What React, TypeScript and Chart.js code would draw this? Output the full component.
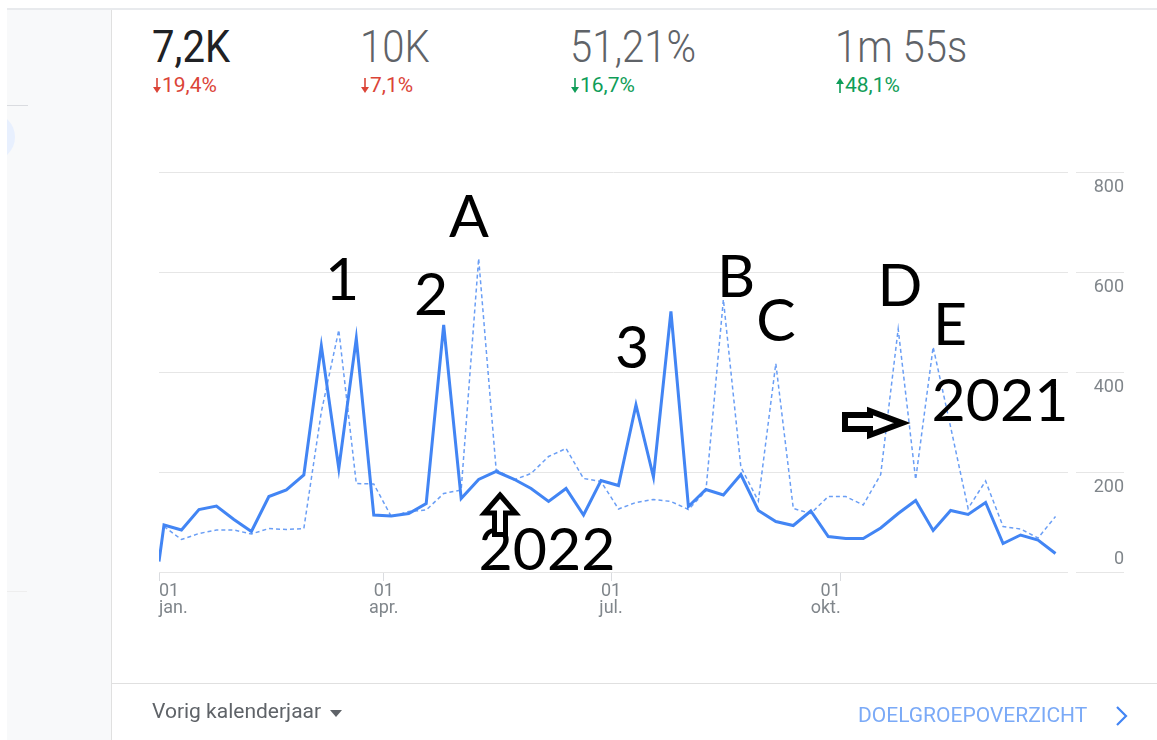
import React, { useEffect, useRef } from "react";
import { Chart, registerables } from "chart.js";

Chart.register(...registerables);

// ---- data -------------------------------------------------------------
// day of the year (0 = 1 jan.) of every weekly point
const weekDays = [
  0, 2, 9, 16, 23, 30, 37, 44, 51, 58, 65, 72, 79, 86, 93, 100, 107, 114, 121,
  128, 135, 142, 149, 156, 163, 170, 177, 184, 191, 198, 205, 212, 219, 226,
  233, 240, 247, 254, 261, 268, 275, 282, 289, 296, 303, 310, 317, 324, 331,
  338, 345, 352, 359,
];
// current year (solid line)
const users2022 = [
  21, 94, 84, 125, 132, 105, 81, 151, 164, 194, 452, 207, 467, 114, 112, 117,
  137, 494, 147, 185, 201, 186, 167, 141, 167, 114, 183, 173, 334, 190, 521,
  131, 165, 154, 195, 123, 101, 93, 122, 71, 67, 67, 88, 117, 143, 83, 123, 115,
  139, 57, 74, 64, 37,
];
// previous year (dashed line)
const users2021 = [
  null, 91, 65, 77, 84, 84, 76, 87, 85, 87, 320, 484, 177, 176, 111, 121, 124,
  157, 164, 627, 205, 184, 197, 231, 247, 187, 181, 126, 139, 145, 141, 125,
  162, 545, 210, 142, 417, 127, 117, 151, 151, 134, 195, 486, 185, 450, 290,
  127, 182, 91, 86, 68, 111,
];
const yTickValues = [0, 200, 400, 600, 800];
const yTickLabels = ["0", "200", "400", "600", "800"];
const xTickDays = [0, 90, 181, 273];
const xTickDayLabels = ["01", "01", "01", "01"];
const xTickMonthLabels = ["jan.", "apr.", "jul.", "okt."];
const xTickAlign: CanvasTextAlign[] = ["left", "center", "center", "right"];

const metricValues = ["7,2K", "10K", "51,21%", "1m 55s"];
const metricChanges = ["19,4%", "7,1%", "16,7%", "48,1%"];
const metricUp = [false, false, false, true];
const metricGood = [false, false, true, true];

// ---- helpers ----------------------------------------------------------
const GRID = "#e6e6e6";
const AXIS_TEXT = "#80868b";

type TxtProps = {
  x: number;
  y: number; // baseline
  size: number;
  color: string;
  family?: string;
  weight?: number;
  factor?: number;
  center?: boolean;
  sx?: number;
  children: React.ReactNode;
};

const Txt = ({
  x,
  y,
  size,
  color,
  family = "Roboto",
  weight = 400,
  factor = 0.842,
  center = false,
  sx = 1,
  children,
}: TxtProps) => {
  const transforms: string[] = [];
  if (center) transforms.push("translateX(-50%)");
  if (sx !== 1) transforms.push(`scaleX(${sx})`);
  return (
    <div
      style={{
        position: "absolute",
        left: x,
        top: y - size * factor,
        fontSize: size,
        lineHeight: `${size}px`,
        fontFamily: family,
        fontWeight: weight,
        color,
        whiteSpace: "nowrap",
        transform: transforms.length ? transforms.join(" ") : undefined,
        transformOrigin: center ? "center" : "left",
      }}
    >
      {children}
    </div>
  );
};

const axisPlugin = {
  id: "gaAxis",
  afterDraw(chart: any) {
    const { ctx, chartArea } = chart;
    const xs = chart.scales.x;
    const ys = chart.scales.y;
    ctx.save();
    // right-hand gridline stubs and y labels
    ctx.strokeStyle = GRID;
    ctx.lineWidth = 1;
    yTickValues.forEach((v) => {
      const py = Math.round(ys.getPixelForValue(v)) + 0.5;
      ctx.beginPath();
      ctx.moveTo(chartArea.right + 8, py);
      ctx.lineTo(chartArea.right + 56, py);
      ctx.stroke();
    });
    ctx.fillStyle = AXIS_TEXT;
    ctx.font = "18px Roboto";
    ctx.textAlign = "right";
    ctx.textBaseline = "alphabetic";
    yTickValues.forEach((v, i) => {
      const py = ys.getPixelForValue(v);
      ctx.fillText(yTickLabels[i], chartArea.right + 56, v === 0 ? py - 8 : py + 20);
    });
    // x labels
    xTickDays.forEach((d, i) => {
      const px = xs.getPixelForValue(d);
      ctx.textAlign = xTickAlign[i];
      ctx.fillText(xTickDayLabels[i], px, chartArea.bottom + 24);
      ctx.fillText(xTickMonthLabels[i], px, chartArea.bottom + 41);
    });
    ctx.restore();
  },
};

export default function App() {
  const ref = useRef<HTMLCanvasElement | null>(null);

  useEffect(() => {
    if (!ref.current) return;
    const chart = new Chart(ref.current, {
      type: "line",
      data: {
        datasets: [
          {
            label: "2022",
            data: weekDays.map((d, i) => ({ x: d, y: users2022[i] })),
            borderColor: "#4285f4",
            borderWidth: 3,
            pointRadius: 0,
            tension: 0,
            order: 0,
          },
          {
            label: "2021",
            data: weekDays.map((d, i) => ({ x: d, y: users2021[i] as any })),
            borderColor: "#6a9ef5",
            borderWidth: 1.5,
            borderDash: [4, 3],
            pointRadius: 0,
            tension: 0,
            order: 1,
          },
        ],
      },
      options: {
        responsive: false,
        animation: false,
        devicePixelRatio: 1,
        layout: { padding: { left: 46, top: 42, right: 0, bottom: 0 } },
        plugins: { legend: { display: false }, tooltip: { enabled: false } },
        scales: {
          x: {
            type: "linear",
            min: 0,
            max: 364,
            afterBuildTicks: (s: any) => {
              s.ticks = xTickDays.map((v) => ({ value: v }));
            },
            afterFit: (s: any) => {
              s.height = 78;
            },
            ticks: { display: false },
            grid: {
              drawOnChartArea: false,
              drawTicks: true,
              tickLength: 9,
              color: "#dadce0",
            },
            border: { display: false },
          },
          y: {
            position: "right",
            min: 0,
            max: 800,
            ticks: { display: false, stepSize: 200 },
            afterFit: (s: any) => {
              s.width = 89;
            },
            grid: { color: GRID, drawTicks: false },
            border: { display: false },
          },
        },
      } as any,
      plugins: [axisPlugin],
    });
    return () => chart.destroy();
  }, []);

  const metricX = [152, 360, 570, 835];
  const notes: [string, number, number][] = [
    ["1", 342, 300],
    ["2", 431, 315],
    ["A", 469, 237],
    ["3", 632, 368],
    ["B", 736, 297],
    ["C", 776, 341],
    ["D", 900, 306],
    ["E", 950, 345],
    ["2021", 1000, 421],
    ["2022", 547, 570],
  ];

  return (
    <div
      style={{
        position: "absolute",
        left: 0,
        top: 0,
        width: 1157,
        height: 740,
        background: "#fff",
        overflow: "hidden",
        fontFamily: "Roboto",
      }}
    >
      {/* left sidebar */}
      <div
        style={{
          position: "absolute",
          left: 7,
          top: 10,
          width: 104,
          height: 730,
          background: "#f8f9fa",
          overflow: "hidden",
        }}
      >
        <div style={{ position: "absolute", left: 0, top: 95, width: 21, height: 1, background: "#dadce0" }} />
        <div
          style={{
            position: "absolute",
            left: -40,
            top: 103,
            width: 48,
            height: 48,
            borderRadius: "50%",
            background: "#e8f0fe",
          }}
        />
        <div style={{ position: "absolute", left: 0, top: 581, width: 20, height: 1, background: "#eeeeee" }} />
      </div>
      {/* top border */}
      <div style={{ position: "absolute", left: 7, top: 8, width: 1150, height: 2, background: "#e8eaed" }} />
      {/* card left border */}
      <div style={{ position: "absolute", left: 111, top: 10, width: 1, height: 730, background: "#e0e0e0" }} />
      {/* footer separator */}
      <div style={{ position: "absolute", left: 112, top: 683, width: 1045, height: 1, background: "#e0e0e0" }} />

      {/* metrics */}
      {metricValues.map((v, i) => (
        <Txt
          key={"m" + i}
          x={metricX[i]}
          y={62}
          size={45}
          sx={0.89}
          weight={i === 0 ? 400 : 300}
          color={i === 0 ? "#202124" : "#5f6368"}
        >
          {v}
        </Txt>
      ))}
      {metricChanges.map((c, i) => {
        const col = metricGood[i] ? "#0f9d58" : "#db4437";
        return (
          <React.Fragment key={"c" + i}>
            <svg
              width={10}
              height={16}
              style={{ position: "absolute", left: metricX[i], top: 78 }}
            >
              {metricUp[i] ? (
                <>
                  <line x1={5} y1={5} x2={5} y2={15} stroke={col} strokeWidth={1.6} />
                  <polygon points="1,6 9,6 5,0" fill={col} />
                </>
              ) : (
                <>
                  <line x1={5} y1={0} x2={5} y2={10} stroke={col} strokeWidth={1.6} />
                  <polygon points="1,9 9,9 5,15" fill={col} />
                </>
              )}
            </svg>
            <Txt x={metricX[i] + 10} y={93} size={21} color={col}>
              {c}
            </Txt>
          </React.Fragment>
        );
      })}

      {/* chart */}
      <canvas
        ref={ref}
        width={1044}
        height={520}
        style={{ position: "absolute", left: 113, top: 130, width: 1044, height: 520 }}
      />

      {/* hand-drawn annotations */}
      {notes.map(([t, x, y]) => (
        <Txt key={t} x={x} y={y} size={59} family="Lato" factor={0.887} color="#000" center>
          {t}
        </Txt>
      ))}
      <svg
        width={1157}
        height={740}
        style={{ position: "absolute", left: 0, top: 0, pointerEvents: "none" }}
      >
        <path
          d="M500,495 L515.5,513 L505.5,513 L505.5,534.5 L494.5,534.5 L494.5,513 L484.5,513 Z"
          fill="#fff"
          stroke="#000"
          strokeWidth={5}
          strokeLinejoin="miter"
        />
        <path
          d="M845,415 L870,415 L870,411 L902,423 L870,435 L870,429 L845,429 Z"
          fill="#fff"
          stroke="#000"
          strokeWidth={6}
          strokeLinejoin="miter"
        />
        {/* footer chevron */}
        <polyline points="1117,707 1126,716 1117,725" fill="none" stroke="#4285f4" strokeWidth={2.2} />
        {/* dropdown triangle */}
        <polygon points="330,710 342,710 336,717" fill="#5f6368" />
      </svg>

      {/* footer */}
      <Txt x={152} y={719} size={21} color="#5f6368">
        Vorig kalenderjaar
      </Txt>
      <Txt x={858} y={723} size={21} color="#7baaf7">
        DOELGROEPOVERZICHT
      </Txt>
    </div>
  );
}
